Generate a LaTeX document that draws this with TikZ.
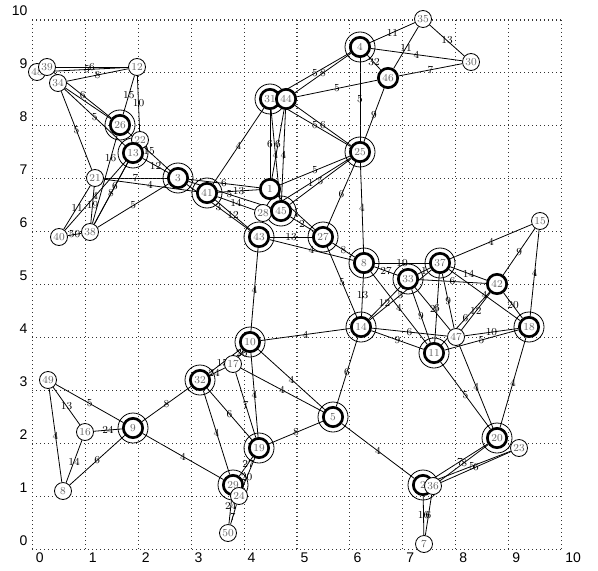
\documentclass[tikz,border=0pt]{standalone}
\usepackage{fontspec}
\newfontfamily\tickfont{Liberation Sans}
\pgfdeclarelayer{bg}
\pgfsetlayers{bg,main}
\newcommand\edg[4][0.5]{\draw[edge] (n#2) -- node[el,pos=#1] {#4} (n#3);}
\begin{document}
\begin{tikzpicture}[x={(0.75pt,0)}, y={(0,-0.75pt)},
  thinnode/.style={circle, draw, line width=0.6pt, fill=white, minimum size=12.75pt, inner sep=0pt, font=\fontsize{8}{8}\selectfont, text=black!60},
  thicknode/.style={thinnode, line width=2pt, minimum size=14.5pt},
  el/.style={font=\fontsize{8}{8}\selectfont, inner sep=0pt, text=black},
  edge/.style={line width=0.6pt},
  ring/.style={line width=0.6pt},
  griddot/.style={line width=0.8pt, dash pattern=on 0.6pt off 2.4pt, black!80},
  tick/.style={font=\fontsize{10.5}{12}\selectfont\tickfont, inner sep=1pt}]
\useasboundingbox (0,0) rectangle (598,570);
% grid
\foreach \k in {0,...,10} {
  \draw[griddot] ({32.3+52.94*\k},20) -- ({32.3+52.94*\k},549);
  \draw[griddot] (32.3,{20+52.94*\k}) -- (561.7,{20+52.94*\k});
  \node[tick, anchor=north west] at ({32.3+52.94*\k+2},551) {\k};
  \node[tick, anchor=south east] at (29,{549-52.94*\k-2}) {\k};
}
% nodes
\node[thinnode] (n35) at (423,19) {35};
\node[thicknode] (n4) at (360,47) {4};
\node[thinnode] (n30) at (471,62) {30};
\node[thicknode] (n46) at (388,78) {46};
\node[thinnode] (n12) at (137,67) {12};
\node[thinnode] (n48) at (37,72) {48};
\node[thinnode] (n39) at (47,67) {39};
\node[thinnode] (n34) at (58,83) {34};
\node[thicknode] (n31) at (270,99) {31};
\node[thicknode] (n44) at (286,99) {44};
\node[thicknode] (n26) at (120,125) {26};
\node[thinnode] (n22) at (140,140) {22};
\node[thicknode] (n13) at (133,153) {13};
\node[thicknode] (n25) at (360,152) {25};
\node[thinnode] (n21) at (95,178) {21};
\node[thicknode] (n3) at (178,178) {3};
\node[thicknode] (n41) at (207,193) {41};
\node[thicknode] (n1) at (270,189) {1};
\node[thinnode] (n28) at (263,213) {28};
\node[thicknode] (n45) at (281,211) {45};
\node[thicknode] (n43) at (259,237) {43};
\node[thicknode] (n27) at (323,237) {27};
\node[thinnode] (n40) at (59,237) {40};
\node[thinnode] (n38) at (90,232) {38};
\node[thinnode] (n15) at (540,221) {15};
\node[thicknode] (nE) at (364,263) {8};
\node[thicknode] (n37) at (440,263) {37};
\node[thicknode] (n33) at (408,279) {33};
\node[thicknode] (n42) at (497,284) {42};
\node[thicknode] (n14) at (361,327) {14};
\node[thicknode] (n18) at (529,327) {18};
\node[thinnode] (n47) at (456,337) {47};
\node[thicknode] (n11) at (434,353) {11};
\node[thicknode] (n10) at (250,342) {10};
\node[thinnode] (n17) at (233,364) {17};
\node[thinnode] (n49) at (48,380) {49};
\node[thicknode] (n32) at (200,380) {32};
\node[thicknode] (n5) at (333,417) {5};
\node[thicknode] (n9) at (133,428) {9};
\node[thinnode] (n16) at (85,432) {16};
\node[thicknode] (n19) at (259,448) {19};
\node[thicknode] (n20) at (497,438) {20};
\node[thinnode] (n23) at (519,448) {23};
\node[thinnode] (n8) at (63,491) {8};
\node[thicknode] (n29) at (233,485) {29};
\node[thinnode] (n24) at (239,496) {24};
\node[thinnode] (n50) at (228,533) {50};
\node[thicknode] (n2) at (423,485) {2};
\node[thinnode] (n36) at (433,486) {36};
\node[thinnode] (n7) at (424,544) {7};
\begin{pgfonlayer}{bg}
% edges
\edg{4}{35}{11}
\edg{46}{35}{11}
\edg{35}{30}{13}
\edg{4}{30}{4}
\edg{46}{30}{7}
\edg{4}{46}{32}
\edg{4}{25}{5}
\edg{4}{31}{5}
\edg{4}{44}{8}
\edg{44}{46}{5}
\edg{46}{25}{9}
\edg{31}{25}{5}
\edg{44}{25}{6}
\edg{31}{1}{6}
\edg{44}{1}{6}
\edg{31}{45}{4}
\edg{44}{45}{4}
\edg{31}{41}{4}
\edg{25}{1}{5}
\edg{25}{28}{1}
\edg{25}{45}{5}
\edg{25}{27}{6}
\edg{25}{E}{4}
\edg{3}{1}{6}
\edg{41}{1}{13}
\edg{3}{45}{5}
\edg{41}{28}{14}
\edg{41}{43}{12}
\edg{3}{43}{3}
\edg{1}{27}{1}
\edg{45}{27}{2}
\edg{43}{27}{13}
\edg{43}{E}{4}
\edg{27}{E}{8}
\edg{27}{14}{5}
\edg{E}{14}{13}
\edg{E}{33}{27}
\edg{E}{37}{10}
\edg{33}{37}{1}
\edg{37}{15}{4}
\edg{15}{42}{9}
\edg{15}{18}{4}
\edg{37}{42}{14}
\edg{33}{42}{6}
\edg{42}{18}{20}
\edg{37}{18}{4}
\edg{42}{47}{12}
\edg{42}{11}{6}
\edg{37}{47}{9}
\edg{33}{47}{2}
\edg{37}{11}{6}
\edg{33}{11}{9}
\edg{E}{11}{4}
\edg{37}{14}{5}
\edg{14}{33}{12}
\edg{14}{47}{6}
\edg{14}{11}{9}
\edg{47}{18}{10}
\edg{11}{18}{5}
\edg{47}{20}{4}
\edg{11}{20}{5}
\edg{18}{20}{4}
\edg{20}{2}{7}
\edg{20}{36}{8}
\edg{23}{2}{5}
\edg{23}{36}{6}
\edg{2}{7}{16}
\edg{36}{7}{6}
\edg{5}{2}{4}
\edg{10}{14}{4}
\edg{14}{5}{6}
\edg{10}{5}{4}
\edg{17}{5}{4}
\edg[0.58]{10}{32}{15}
\edg[0.3]{10}{17}{26}
\edg[0.72]{17}{32}{24}
\edg{10}{19}{4}
\edg{17}{19}{7}
\edg{32}{19}{6}
\edg{32}{29}{4}
\edg{19}{5}{8}
\edg[0.35]{19}{29}{27}
\edg[0.65]{19}{24}{20}
\edg[0.35]{29}{50}{24}
\edg[0.65]{24}{50}{7}
\edg{9}{29}{4}
\edg{9}{32}{8}
\edg{49}{16}{13}
\edg{49}{9}{5}
\edg{49}{8}{4}
\edg{16}{9}{24}
\edg{16}{8}{14}
\edg{9}{8}{6}
\edg{43}{10}{4}
\edg{48}{12}{5}
\edg{39}{12}{6}
\edg{34}{12}{8}
\edg{12}{26}{15}
\edg{12}{22}{10}
\edg{34}{21}{5}
\edg{39}{26}{6}
\edg{34}{13}{5}
\draw[edge] (n34) -- (n26);
\edg[0.26]{26}{38}{16}
\edg{22}{38}{6}
\edg{13}{38}{8}
\edg{13}{40}{4}
\edg{21}{40}{11}
\edg{21}{38}{19}
\edg{40}{38}{50}
\edg{21}{3}{7}
\edg{21}{41}{4}
\edg{38}{3}{5}
\edg{26}{3}{15}
\edg{13}{3}{12}
% outer rings
\foreach \n in {4,31,26,13,25,3,41,45,43,27,E,37,33,14,18,11,10,32,5,9,19,20,29,2}
  \draw[ring] (n\n.center) circle[radius=11.25pt];
\end{pgfonlayer}
\end{tikzpicture}
\end{document}
